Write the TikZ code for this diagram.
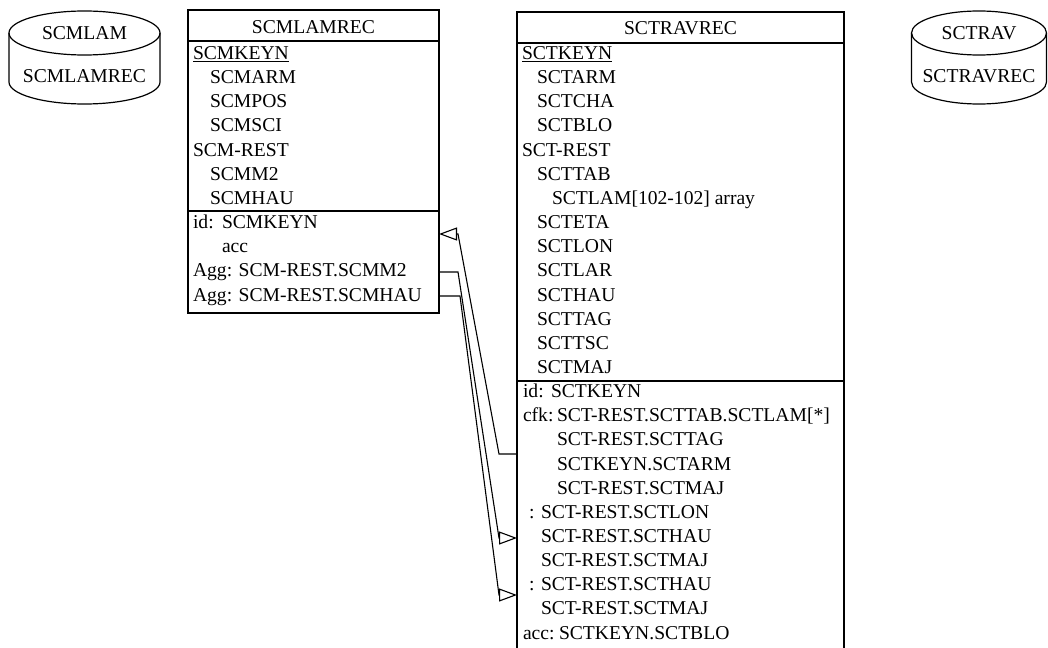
\documentclass[tikz,border=0pt]{standalone}
\usepackage{fontspec}
\setmainfont{Liberation Serif}
\usetikzlibrary{arrows.meta}
\begin{document}
\begin{tikzpicture}[x=1pt,y=-1pt,
  txt/.style={anchor=base west, inner sep=0pt, outer sep=0pt, font=\fontsize{19.6}{24}\selectfont},
  ctxt/.style={anchor=base, inner sep=0pt, outer sep=0pt, font=\fontsize{19.6}{24}\selectfont},
  recbox/.style={draw, line width=1.3pt, rectangle, inner sep=0pt, outer sep=0pt, anchor=north west},
  rule/.style={line width=1.3pt},
  link/.style={line width=1.1pt, -{Triangle[open,length=18pt,width=13pt]}},
  cyl/.style={line width=1.2pt}]
\clip (0,0) rectangle (1048,647);

% cylinders
\draw[cyl] (84.5,33) ellipse [x radius=75.5pt, y radius=22pt];
\draw[cyl] (9,33) -- (9,82) arc[start angle=180, end angle=360, x radius=75.5pt, y radius=22pt] -- (160,33);
\node[ctxt] (cyl1a) at (84.5,39.5) {SCMLAM};
\node[ctxt] (cyl1b) at (84.5,82.5) {SCMLAMREC};

\draw[cyl] (979,33) ellipse [x radius=67.5pt, y radius=22pt];
\draw[cyl] (911.5,33) -- (911.5,82) arc[start angle=180, end angle=360, x radius=67.5pt, y radius=22pt] -- (1046.5,33);
\node[ctxt] (cyl2a) at (979,39.5) {SCTRAV};
\node[ctxt] (cyl2b) at (979,82.5) {SCTRAVREC};

% SCMLAMREC box
\node[recbox, minimum width=251pt, minimum height=303pt] (lamrec) at (188,10) {};
\draw[rule] (lamrec.west |- 0,41) -- (lamrec.east |- 0,41);
\draw[rule] (lamrec.west |- 0,211) -- (lamrec.east |- 0,211);
\node[ctxt] (lamhead) at (313.5,33.5) {SCMLAMREC};
\node[txt] (l0) at (193,59.5) {\underline{SCMKEYN}};
\node[txt] (l1) at (210,83.65) {SCMARM};
\node[txt] (l2) at (210,107.8) {SCMPOS};
\node[txt] (l3) at (210,131.95) {SCMSCI};
\node[txt] (l4) at (193,156.1) {SCM-REST};
\node[txt] (l5) at (210,180.25) {SCMM2};
\node[txt] (l6) at (210,204.4) {SCMHAU};
\node[txt] (l7a) at (193,228.55) {id:};
\node[txt] (l7b) at (222,228.55) {SCMKEYN};
\node[txt] (l8) at (222,252.7) {acc};
\node[txt] (l9) at (193,276.85) {Agg: SCM-REST.SCMM2};
\node[txt] (l10) at (193,301) {Agg: SCM-REST.SCMHAU};

% SCTRAVREC box
\node[recbox, minimum width=327pt, minimum height=680pt] (trav) at (517,12) {};
\draw[rule] (trav.west |- 0,43) -- (trav.east |- 0,43);
\draw[rule] (trav.west |- 0,381) -- (trav.east |- 0,381);
\node[ctxt] (travhead) at (680.5,34.5) {SCTRAVREC};
\node[txt] (t0) at (522,59.5) {\underline{SCTKEYN}};
\node[txt] (t1) at (537,83.65) {SCTARM};
\node[txt] (t2) at (537,107.8) {SCTCHA};
\node[txt] (t3) at (537,131.95) {SCTBLO};
\node[txt] (t4) at (522,156.1) {SCT-REST};
\node[txt] (t5) at (537,180.25) {SCTTAB};
\node[txt] (t6) at (552,204.4) {SCTLAM[102-102] array};
\node[txt] (t7) at (537,228.55) {SCTETA};
\node[txt] (t8) at (537,252.7) {SCTLON};
\node[txt] (t9) at (537,276.85) {SCTLAR};
\node[txt] (t10) at (537,301) {SCTHAU};
\node[txt] (t11) at (537,325.15) {SCTTAG};
\node[txt] (t12) at (537,349.3) {SCTTSC};
\node[txt] (t13) at (537,373.45) {SCTMAJ};
\node[txt] (t14a) at (523,397.6) {id:};
\node[txt] (t14b) at (551,397.6) {SCTKEYN};
\node[txt] (t15a) at (523,421.75) {cfk:};
\node[txt] (t15b) at (557,421.75) {SCT-REST.SCTTAB.SCTLAM[*]};
\node[txt] (t16) at (557,445.9) {SCT-REST.SCTTAG};
\node[txt] (t17) at (557,470.05) {SCTKEYN.SCTARM};
\node[txt] (t18) at (557,494.2) {SCT-REST.SCTMAJ};
\node[txt] (t19a) at (529,518.35) {:};
\node[txt] (t19b) at (541,518.35) {SCT-REST.SCTLON};
\node[txt] (t20) at (541,542.5) {SCT-REST.SCTHAU};
\node[txt] (t21) at (541,566.65) {SCT-REST.SCTMAJ};
\node[txt] (t22a) at (529,590.8) {:};
\node[txt] (t22b) at (541,590.8) {SCT-REST.SCTHAU};
\node[txt] (t23) at (541,614.95) {SCT-REST.SCTMAJ};
\node[txt] (t24a) at (523,639.1) {acc:};
\node[txt] (t24b) at (559,639.1) {SCTKEYN.SCTBLO};

% connectors
\draw[link] (trav.west |- 0,454) -- (499,454) -- (458,234) -- (lamrec.east |- 0,234);
\draw[link] (lamrec.east |- 0,272) -- (458,272) -- (499,538) -- (trav.west |- 0,538);
\draw[link] (lamrec.east |- 0,296) -- (460,296) -- (499,595) -- (trav.west |- 0,595);
\end{tikzpicture}
\end{document}
